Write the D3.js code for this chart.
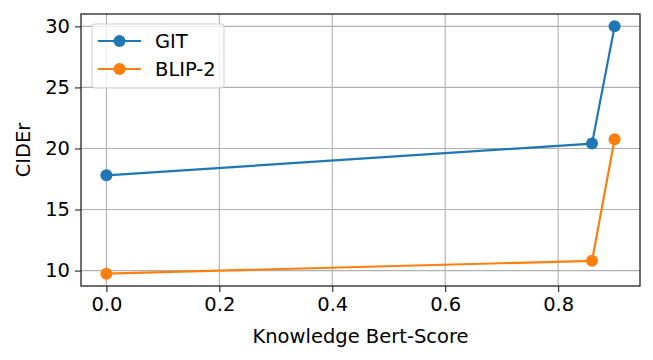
<!DOCTYPE html>
<html><head><meta charset="utf-8">
<script src="https://cdn.jsdelivr.net/npm/d3@7"></script>
<style>body{margin:0;background:#fff}svg{display:block}text{font-family:"DejaVu Sans";fill:#000}</style>
</head><body><svg id="c" width="653" height="360"></svg>
<script>
const xValues = [0, 0.86, 0.9];
const gitValues = [17.8, 20.4, 30.0];
const blipValues = [9.75, 10.8, 20.75];
const seriesNames = ["GIT", "BLIP-2"];
const seriesColors = ["#1f77b4", "#ff7f0e"];
const xTicks = [0, 0.2, 0.4, 0.6, 0.8];
const yTicks = [10, 15, 20, 25, 30];

const svg = d3.select("#c");
const L = 81, R = 640, T = 14, B = 286;
const x = d3.scaleLinear().domain([-0.045, 0.945]).range([L, R]);
const yMin = 9.75, yMax = 30, pad = (yMax - yMin) * 0.05;
const y = d3.scaleLinear().domain([yMin - pad, yMax + pad]).range([B, T]);
const fs = 19.5;

// grid
svg.append("g").selectAll("line").data(xTicks).join("line")
  .attr("x1", d => x(d)).attr("x2", d => x(d)).attr("y1", T).attr("y2", B)
  .attr("stroke", "#b0b0b0").attr("stroke-width", 1.1);
svg.append("g").selectAll("line").data(yTicks).join("line")
  .attr("y1", d => y(d)).attr("y2", d => y(d)).attr("x1", L).attr("x2", R)
  .attr("stroke", "#b0b0b0").attr("stroke-width", 1.1);

// axes
const xAxis = d3.axisBottom(x).tickValues(xTicks).tickFormat(d3.format(".1f")).tickSize(6).tickPadding(5);
const yAxis = d3.axisLeft(y).tickValues(yTicks).tickFormat(d3.format("d")).tickSize(6).tickPadding(5);
const gx = svg.append("g").attr("transform", `translate(0,${B})`).call(xAxis);
const gy = svg.append("g").attr("transform", `translate(${L},0)`).call(yAxis);
[gx, gy].forEach(g => {
  g.select(".domain").remove();
  g.selectAll(".tick line").attr("stroke", "#222").attr("stroke-width", 1.1);
  g.selectAll(".tick text").attr("font-family", "DejaVu Sans").attr("font-size", fs).attr("fill", "#000");
});

const series = [gitValues, blipValues];
const line = d3.line().x((d, i) => x(xValues[i])).y(d => y(d));
series.forEach((vals, s) => {
  svg.append("path").datum(vals).attr("d", line).attr("fill", "none")
    .attr("stroke", seriesColors[s]).attr("stroke-width", 2.2);
  svg.append("g").selectAll("circle").data(vals).join("circle")
    .attr("cx", (d, i) => x(xValues[i])).attr("cy", d => y(d)).attr("r", 6)
    .attr("fill", seriesColors[s]);
});

// frame
svg.append("rect").attr("x", L).attr("y", T).attr("width", R - L).attr("height", B - T)
  .attr("fill", "none").attr("stroke", "#222").attr("stroke-width", 1.3);

// labels
svg.append("text").attr("x", (L + R) / 2).attr("y", 343).attr("text-anchor", "middle")
  .attr("font-size", fs).text("Knowledge Bert-Score");
svg.append("text").attr("transform", `translate(30,${(T + B) / 2}) rotate(-90)`)
  .attr("text-anchor", "middle").attr("font-size", fs).text("CIDEr");

// legend
const lg = svg.append("g");
lg.append("rect").attr("x", 92).attr("y", 24).attr("width", 132).attr("height", 64).attr("rx", 3)
  .attr("fill", "#fff").attr("fill-opacity", 0.8).attr("stroke", "#d0d0d0").attr("stroke-width", 1.1);
seriesNames.forEach((n, i) => {
  const yy = 41 + i * 28;
  lg.append("line").attr("x1", 98).attr("x2", 141).attr("y1", yy).attr("y2", yy)
    .attr("stroke", seriesColors[i]).attr("stroke-width", 2.2);
  lg.append("circle").attr("cx", 119.5).attr("cy", yy).attr("r", 6).attr("fill", seriesColors[i]);
  lg.append("text").attr("x", 155).attr("y", yy + 7).attr("font-size", fs).text(n);
});
</script></body></html>
